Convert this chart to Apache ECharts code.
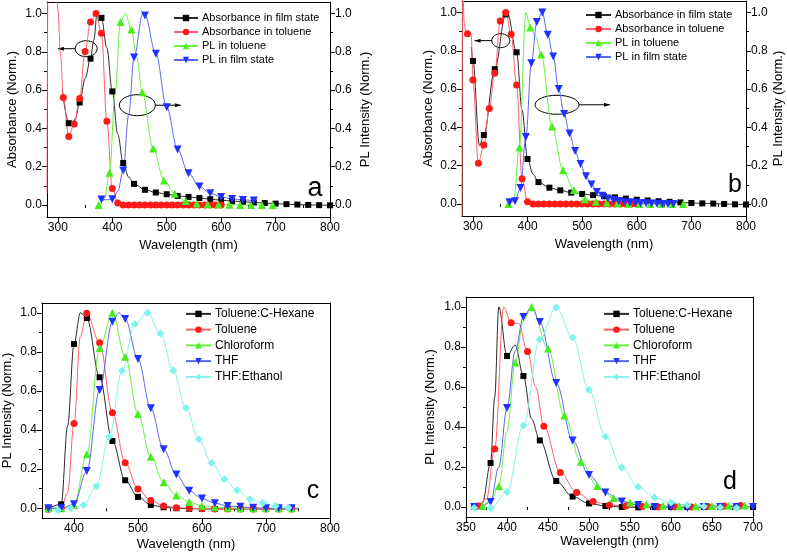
<!DOCTYPE html>
<html><head><meta charset="utf-8">
<script src="https://cdn.jsdelivr.net/npm/echarts@6/dist/echarts.min.js"></script>
<style>html,body{margin:0;padding:0;background:#fff}#c{width:787px;height:560px}</style>
</head><body><div id="c"></div>
<script>
// ---------------- DATA ----------------
// Tick labels
const xTicksAB = [300, 400, 500, 600, 700, 800];
const xMinorAB = [350, 450, 550, 650, 750];
const xTicksC = [400, 500, 600, 700, 800];
const xMinorC = [350, 450, 550, 650, 750];
const xTicksD = [350, 400, 450, 500, 550, 600, 650, 700];
const xMinorD = [375, 425, 475, 525, 575, 625, 675];
const yTicks = [0, 0.2, 0.4, 0.6, 0.8, 1.0];
const yMinor = [0.1, 0.3, 0.5, 0.7, 0.9];

// Panel a
const legendA = ['Absorbance in film state', 'Absorbance in toluene', 'PL in toluene', 'PL in film state'];
const aAbsFilm = [[320,0.427],[340,0.535],[360,0.764],[380,0.977],[400,0.593],[420,0.219],[440,0.11],[460,0.079],[480,0.065],[500,0.056],[520,0.047],[540,0.042],[560,0.036],[580,0.030],[600,0.025],[620,0.020],[640,0.017],[660,0.013],[680,0.010],[700,0.007],[720,0.004],[740,0.002],[760,0.0],[780,-0.001],[800,-0.002]];
const aAbsFilmCurve = [[308,0.6],[325,0.415],[332,0.45],[350,0.66],[366,0.86],[372,1.0],[390,0.82],[410,0.37],[430,0.145]];
const aAbsTol = [[310,0.561],[320,0.357],[330,0.423],[340,0.556],[350,0.802],[360,0.955],[370,1.0],[380,0.897],[390,0.437],[400,0.086],[410,0.010],[420,0],[430,0],[440,0],[450,0],[460,0],[470,0],[480,0],[490,0],[500,0],[510,0],[520,0],[530,0],[540,0],[550,0],[560,0],[570,0],[580,0],[590,0],[600,0]];
const aAbsTolCurve = [[280,0.06],[282,1.3],[296,1.3],[300,1.02],[305,0.78]];
const aPLTol = [[375,0.0],[395,0.168],[415,0.956],[435,0.916],[455,0.589],[475,0.295],[495,0.128],[515,0.058],[535,0.02],[555,0.008],[575,0.004],[595,0.002],[615,0.001],[635,0],[655,0],[675,0],[695,0]];
const aPLTolCurve = [[385,0.025],[405,0.58],[424,1.0],[445,0.77]];
const aPLFilm = [[380,0.028],[400,0.03],[420,0.18],[440,0.77],[460,0.99],[480,0.79],[500,0.51],[520,0.29],[540,0.166],[560,0.096],[580,0.061],[600,0.042],[620,0.031],[640,0.026],[660,0.023]];
const aPLFilmCurve = [[390,0.027],[410,0.07],[430,0.47],[456,1.0]];

// Panel b
const legendB = legendA;
const bAbsFilm = [[300,0.747],[320,0.36],[340,0.704],[360,0.99],[380,0.792],[400,0.235],[420,0.114],[440,0.085],[460,0.071],[480,0.059],[500,0.052],[520,0.046],[540,0.04],[560,0.034],[580,0.028],[600,0.022],[620,0.018],[640,0.014],[660,0.011],[680,0.008],[700,0.005],[720,0.003],[740,0.002],[760,0.0],[780,-0.002],[800,-0.003]];
const bAbsFilmCurve = [[297,0.82],[312,0.305],[363,1.0],[390,0.49],[410,0.155]];
const bAbsTol = [[290,0.889],[300,0.647],[310,0.213],[320,0.308],[330,0.498],[340,0.683],[350,0.955],[360,1.0],[370,0.886],[380,0.621],[390,0.131],[400,0.012],[410,0],[420,0],[430,0],[440,0],[450,0],[460,0],[470,0],[480,0],[490,0],[500,0],[510,0],[520,0],[530,0],[540,0],[550,0],[560,0],[570,0],[580,0],[590,0],[600,0]];
const bAbsTolCurve = [[280,-0.1],[281,1.2],[284,0.95],[287,0.89],[295,0.9],[297,0.88]];
const bPLTol = [[365,0.0],[385,0.295],[405,0.922],[425,0.78],[445,0.404],[465,0.176],[485,0.073],[505,0.024],[525,0.012],[545,0.006],[565,0.003],[585,0.001],[605,0],[625,0],[645,0],[665,0],[685,0]];
const bPLTolCurve = [[375,0.03],[397,1.0],[415,0.875]];
const bPLFilm = [[367,0.009],[377,0.014],[387,0.083],[397,0.35],[407,0.735],[417,0.95],[427,1.0],[437,0.884],[447,0.77],[457,0.6],[467,0.47],[477,0.368],[487,0.277],[497,0.209],[507,0.145],[517,0.102],[527,0.062],[537,0.043],[547,0.029],[557,0.02],[567,0.015],[577,0.011],[587,0.008],[597,0.006],[607,0.004],[617,0.003],[627,0.002],[637,0.001],[647,0],[657,0],[667,0]];
const bPLFilmCurve = [];

// Panel c
const legendCD = ['Toluene:C-Hexane', 'Toluene', 'Chloroform', 'THF', 'THF:Ethanol'];
const cHex = [[360,0.0],[380,0.02],[400,0.84],[420,0.973],[440,0.67],[460,0.344],[480,0.143],[500,0.058],[520,0.017],[540,0.005],[560,0.0],[580,-0.003],[600,-0.003],[620,-0.004],[640,-0.004],[660,-0.004],[680,-0.004],[700,-0.004],[720,-0.004],[740,-0.004]];
const cHexCurve = [[390,0.42],[410,1.0],[750,-0.004]];
const cTol = [[360,-0.005],[380,0.0],[400,0.434],[420,0.997],[440,0.847],[460,0.489],[480,0.233],[500,0.099],[520,0.039],[540,0.012],[560,0.003],[580,0.0],[600,-0.003],[620,-0.004],[640,-0.004],[660,-0.004],[680,-0.004],[700,-0.004],[720,-0.004],[740,-0.004]];
const cTolCurve = [[390,0.08],[410,0.88],[750,-0.004]];
const cChl = [[360,0.0],[380,0.0],[400,0.017],[420,0.276],[440,0.82],[460,1.0],[480,0.775],[500,0.482],[520,0.264],[540,0.133],[560,0.065],[580,0.032],[600,0.013],[620,0.005],[640,0.002],[660,0],[680,0],[700,0],[720,0],[740,0]];
const cChlCurve = [[750,0]];
const cTHF = [[360,0.0],[380,0.0],[400,0.02],[420,0.19],[440,0.605],[460,0.954],[480,0.968],[500,0.763],[520,0.511],[540,0.302],[560,0.172],[580,0.089],[600,0.05],[620,0.026],[640,0.012],[660,0.007],[680,0.003],[700,0],[720,0],[740,0]];
const cTHFCurve = [[470,1.0],[750,0]];
const cEth = [[375,-0.01],[395,0.0],[415,0.016],[435,0.112],[455,0.366],[475,0.703],[495,0.942],[515,1.0],[535,0.894],[555,0.705],[575,0.513],[595,0.353],[615,0.232],[635,0.148],[655,0.092],[675,0.046],[695,0.027],[715,0.012],[735,0.003]];
const cEthCurve = [[360,-0.005],[750,0]];

// Panel d
const dHex = [[360,0.0],[380,0.22],[400,0.755],[420,0.655],[440,0.333],[460,0.13],[480,0.052],[500,0.018],[520,0.005],[540,0.0],[560,-0.002],[580,0],[600,0],[620,0],[640,0],[660,0],[680,0],[700,0]];
const dHexCurve = [[370,0.02],[385,0.55],[390,1.0],[410,0.81],[430,0.44]];
const dTol = [[365,0.005],[385,0.29],[405,0.921],[425,0.777],[445,0.404],[465,0.173],[485,0.072],[505,0.027],[525,0.01],[545,0.005],[565,0.002],[585,0],[605,0],[625,0],[645,0.003],[665,0.005],[685,0.007]];
const dTolCurve = [[375,0.04],[396,1.0],[414,0.918],[435,0.6]];
const dChl = [[370,0.005],[390,0.105],[410,0.722],[430,1.0],[450,0.792],[470,0.457],[490,0.226],[510,0.105],[530,0.045],[550,0.022],[570,0.012],[590,0.006],[610,0.004],[630,0.004],[650,0.005],[670,0.006],[690,0.008]];
const dChlCurve = [[380,0.03],[400,0.38],[420,0.93]];
const dTHF = [[360,0.0],[380,0.025],[400,0.495],[420,0.95],[440,0.925],[460,0.62],[480,0.333],[500,0.16],[520,0.072],[540,0.028],[560,0.01],[580,0],[600,-0.002],[620,-0.005],[640,0],[660,0],[680,0],[700,0]];
const dTHFCurve = [[370,0.005],[390,0.2],[410,0.78],[430,1.0]];
const dEth = [[360,-0.005],[380,-0.005],[400,0.075],[420,0.408],[440,0.838],[460,0.998],[480,0.847],[500,0.585],[520,0.353],[540,0.197],[560,0.1],[580,0.048],[600,0.022],[620,0.01],[640,0.003],[660,-0.003],[680,-0.005]];
const dEthCurve = [[700,0]];

// ---------------- STYLE / LAYOUT ----------------
const FONT = 'Arial, "Liberation Sans", sans-serif';
const COL = {
  black: {m:'#000000', l:'#2a2a2a'},
  red:   {m:'#ff1a1a', l:'#ff5f6f'},
  green: {m:'#46ee1c', l:'#6cf044'},
  blue:  {m:'#1f30ff', l:'#5a68ee'},
  cyan:  {m:'#7ff4ea', l:'#86f2ea'}
};
const SYM = {rect:'rect', circle:'circle', tri:'triangle', dtri:'path://M0,0L10,0L5,9Z', dia:'diamond'};
const SYMSIZE = {rect:6, circle:7, tri:8, dtri:8, dia:8};

const panels = [
  {grid:{left:47, top:2, width:283, height:215}, x:[280,800], y:[-0.063,1.06], xt:xTicksAB, xm:xMinorAB,
   yName:'Absorbance (Norm.)', yGap:28, rName:'PL Intensity (Norm.)', rGap:29, xGap:22,
   legend:{left:173, top:11, names:legendA, fs:11, lh:14, iw:24}, letter:{t:'a', x:315, y:189, fs:27}},
  {grid:{left:462, top:1, width:284, height:215}, x:[280,800], y:[-0.063,1.06], xt:xTicksAB, xm:xMinorAB,
   yName:'Absorbance (Norm.)', yGap:27, rName:'PL Intensity (Norm.)', rGap:24, xGap:22,
   legend:{left:585, top:8, names:legendB, fs:11, lh:14, iw:25}, letter:{t:'b', x:735, y:185, fs:25}},
  {grid:{left:42, top:303, width:288, height:215}, x:[350,800], y:[-0.05,1.05], xt:xTicksC, xm:xMinorC,
   yName:'PL Intensity (Norm.)', yGap:28, rName:null, xGap:20,
   legend:{left:185, top:306, names:legendCD, fs:12, lh:15.75, iw:25}, letter:{t:'c', x:313, y:491, fs:25}},
  {grid:{left:466, top:297, width:287, height:220}, x:[350,700], y:[-0.05,1.05], xt:xTicksD, xm:xMinorD,
   yName:'PL Intensity (Norm.)', yGap:29, rName:null, xGap:17,
   legend:{left:603, top:306, names:legendCD, fs:12, lh:15.75, iw:25}, letter:{t:'d', x:730, y:482, fs:25}}
];

const seriesSpec = [
  [0, legendA[0], aAbsFilm, aAbsFilmCurve, 'black', 'rect', 'L'],
  [0, legendA[1], aAbsTol, aAbsTolCurve, 'red', 'circle', 'L'],
  [0, legendA[2], aPLTol, aPLTolCurve, 'green', 'tri', 'R'],
  [0, legendA[3], aPLFilm, aPLFilmCurve, 'blue', 'dtri', 'R'],
  [1, legendB[0], bAbsFilm, bAbsFilmCurve, 'black', 'rect', 'L'],
  [1, legendB[1], bAbsTol, bAbsTolCurve, 'red', 'circle', 'L'],
  [1, legendB[2], bPLTol, bPLTolCurve, 'green', 'tri', 'R'],
  [1, legendB[3], bPLFilm, bPLFilmCurve, 'blue', 'dtri', 'R'],
  [2, legendCD[0], cHex, cHexCurve, 'black', 'rect', 'L'],
  [2, legendCD[1], cTol, cTolCurve, 'red', 'circle', 'L'],
  [2, legendCD[2], cChl, cChlCurve, 'green', 'tri', 'L'],
  [2, legendCD[3], cTHF, cTHFCurve, 'blue', 'dtri', 'L'],
  [2, legendCD[4], cEth, cEthCurve, 'cyan', 'dia', 'L'],
  [3, legendCD[0], dHex, dHexCurve, 'black', 'rect', 'L'],
  [3, legendCD[1], dTol, dTolCurve, 'red', 'circle', 'L'],
  [3, legendCD[2], dChl, dChlCurve, 'green', 'tri', 'L'],
  [3, legendCD[3], dTHF, dTHFCurve, 'blue', 'dtri', 'L'],
  [3, legendCD[4], dEth, dEthCurve, 'cyan', 'dia', 'L']
];

// annotations: [panel, ellipse center x(nm), center y, rx(px), ry(px), arrow end x(nm), direction]
const annotations = [
  [0, 352, 0.816, 11, 8, 300, -1],
  [0, 446, 0.521, 18, 10.5, 526, 1],
  [1, 351, 0.853, 9, 7, 303, -1],
  [1, 454, 0.518, 22, 9.5, 551, 1]
];

// ---------------- BUILD ----------------
const txt = {color:'#000', fontFamily:FONT};
const xAxes = [], yAxes = [], grids = [], legends = [], series = [];
panels.forEach((p, i) => {
  grids.push(Object.assign({containLabel:false, show:false}, p.grid));
  const fmt = v => v.toFixed(1);
  xAxes.push({gridIndex:i, type:'value', position:'bottom', min:p.x[0], max:p.x[1],
    name:'Wavelength (nm)', nameLocation:'middle', nameGap:p.xGap, nameTextStyle:Object.assign({fontSize:13}, txt),
    axisLine:{show:true, onZero:false, lineStyle:{color:'#000', width:1}},
    axisTick:{show:true, inside:false, length:5, customValues:p.xt, lineStyle:{color:'#000'}},
    axisLabel:{show:true, margin:5, fontSize:12, customValues:p.xt, ...txt},
    splitLine:{show:false}});
  xAxes.push({gridIndex:i, type:'value', position:'bottom', min:p.x[0], max:p.x[1],
    axisLine:{show:false}, axisLabel:{show:false},
    axisTick:{show:true, inside:false, length:3, customValues:p.xm, lineStyle:{color:'#000'}},
    splitLine:{show:false}});
  xAxes.push({gridIndex:i, type:'value', position:'top', min:p.x[0], max:p.x[1],
    axisLine:{show:true, onZero:false, lineStyle:{color:'#000', width:1}}, axisTick:{show:false}, axisLabel:{show:false}, splitLine:{show:false}});
  yAxes.push({gridIndex:i, type:'value', position:'left', min:p.y[0], max:p.y[1],
    name:p.yName, nameLocation:'middle', nameGap:p.yGap, nameRotate:90, nameTextStyle:Object.assign({fontSize:13}, txt),
    axisLine:{show:true, onZero:false, lineStyle:{color:'#000', width:1}},
    axisTick:{show:true, inside:false, length:5, customValues:yTicks, lineStyle:{color:'#000'}},
    axisLabel:{show:true, margin:5, fontSize:12, customValues:yTicks, formatter:fmt, ...txt},
    splitLine:{show:false}});
  yAxes.push({gridIndex:i, type:'value', position:'left', min:p.y[0], max:p.y[1],
    axisLine:{show:false}, axisLabel:{show:false},
    axisTick:{show:true, inside:false, length:3, customValues:yMinor, lineStyle:{color:'#000'}}, splitLine:{show:false}});
  const hasR = !!p.rName;
  yAxes.push({gridIndex:i, type:'value', position:'right', min:p.y[0], max:p.y[1],
    name:hasR ? p.rName : '', nameLocation:'middle', nameGap:p.rGap || 0, nameRotate:90, nameTextStyle:Object.assign({fontSize:13}, txt),
    axisLine:{show:true, onZero:false, lineStyle:{color:'#000', width:1}},
    axisTick:{show:hasR, inside:false, length:5, customValues:yTicks, lineStyle:{color:'#000'}},
    axisLabel:{show:hasR, margin:5, fontSize:12, customValues:yTicks, formatter:fmt, ...txt},
    splitLine:{show:false}});
  yAxes.push({gridIndex:i, type:'value', position:'right', min:p.y[0], max:p.y[1],
    axisLine:{show:false}, axisLabel:{show:false},
    axisTick:{show:hasR, inside:false, length:3, customValues:yMinor, lineStyle:{color:'#000'}}, splitLine:{show:false}});
  const L = p.legend;
  legends.push({orient:'vertical', left:L.left, top:L.top, padding:0, itemGap:0, itemWidth:L.iw, itemHeight:8,
    data:L.names.map(n => ({name:n})), selectedMode:false,
    textStyle:{fontSize:L.fs, lineHeight:L.lh, height:L.lh, fontFamily:FONT, color:'#000', padding:[0,0,0,-1]}});
});

function buildData(markers, curve) {
  const pts = markers.map(v => ({v, m:true})).concat((curve || []).map(v => ({v, m:false})));
  pts.sort((a, b) => a.v[0] - b.v[0]);
  return pts.map(p => p.m ? {value:p.v} : {value:p.v, symbol:'none', symbolSize:0});
}

seriesSpec.forEach(s => {
  const [pi, name, mk, cv, col, sym, ax] = s;
  series.push({type:'line', name, xAxisIndex:pi*3, yAxisIndex:pi*4 + (ax === 'R' ? 2 : 0),
    data:buildData(mk, cv), smooth:0.35, smoothMonotone:'x', clip:true,
    symbol:SYM[sym], symbolSize:SYMSIZE[sym], showAllSymbol:true,
    lineStyle:{color:COL[col].l, width:1}, itemStyle:{color:COL[col].m, borderWidth:0},
    emphasis:{disabled:true}, animation:false, z:2});
});

const chart = echarts.init(document.getElementById('c'), null, {renderer:'canvas'});
chart.setOption({
  backgroundColor:'#fff', animation:false,
  grid:grids, xAxis:xAxes, yAxis:yAxes, legend:legends, series
});

const graphics = [];
panels.forEach(p => {
  graphics.push({type:'text', x:p.letter.x, y:p.letter.y,
    style:{text:p.letter.t, fontSize:p.letter.fs, fontFamily:FONT, fill:'#000', textAlign:'center', textVerticalAlign:'middle'}});
});
annotations.forEach(a => {
  const [pi, cx, cy, rx, ry, ex, dir] = a;
  const c = chart.convertToPixel({gridIndex:pi}, [cx, cy]);
  const e = chart.convertToPixel({gridIndex:pi}, [ex, cy]);
  graphics.push({type:'ellipse', shape:{cx:c[0], cy:c[1], rx, ry}, style:{fill:'none', stroke:'#000', lineWidth:1}});
  const sx = c[0] + dir * rx;
  graphics.push({type:'line', shape:{x1:sx, y1:c[1], x2:e[0], y2:c[1]}, style:{stroke:'#000', lineWidth:1}});
  const hx = e[0];
  graphics.push({type:'polygon', shape:{points:[[hx, c[1]], [hx - dir*6, c[1]-2], [hx - dir*6, c[1]+2]]}, style:{fill:'#000'}});
});
chart.setOption({graphic:graphics});
</script></body></html>
